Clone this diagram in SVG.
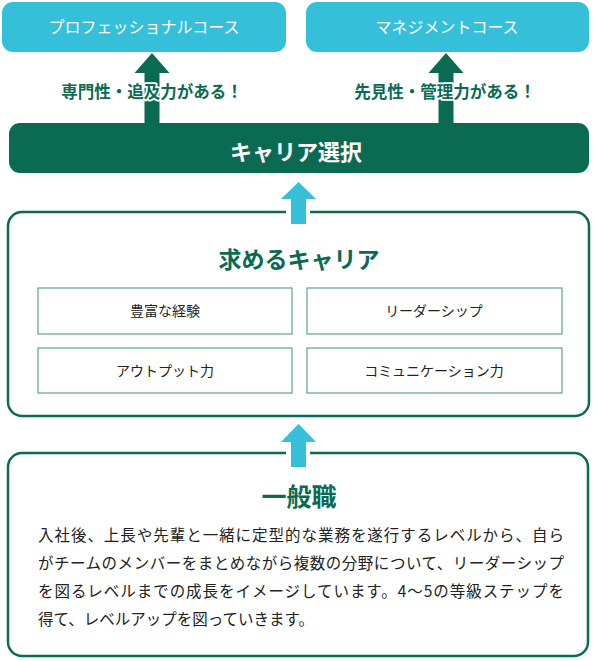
<svg xmlns="http://www.w3.org/2000/svg" width="595" height="661" viewBox="0 0 595 661">
<style>
text{font-family:"Noto Sans CJK JP","Noto Sans",sans-serif;text-anchor:middle}
.course{fill:#35bfd8}
.ct{fill:#fff;font-size:16px}
.lbl{fill:#0b6b52;font-size:16.5px;font-weight:bold;stroke:#fff;stroke-width:3.5;stroke-linejoin:round;paint-order:stroke fill}
.frame{fill:#fff;stroke:#0b6b52;stroke-width:2.5}
.ttl{fill:#0b6b52;font-weight:bold}
.inner{fill:#fff;stroke:#5aa58d;stroke-width:1.2}
.it{fill:#222;font-size:14px}
.body{fill:#222;font-size:15.5px;text-anchor:start}
.ga{fill:#0b6b52}
.ba{fill:#35bfd8}
</style>
<g id="pro-course">
<rect class="course" x="2" y="2" width="284" height="50" rx="11"/>
<text class="ct" x="144" y="33">プロフェッショナルコース</text>
</g>
<g id="mgmt-course">
<rect class="course" x="306" y="2" width="283" height="50" rx="11"/>
<text class="ct" x="447" y="33">マネジメントコース</text>
</g>
<g id="career-select">
<rect x="9" y="123" width="580" height="50" rx="11" fill="#0b6b52"/>
<text x="296" y="160" fill="#fff" font-size="22" font-weight="bold">キャリア選択</text>
</g>
<g id="required-career">
<rect class="frame" x="8" y="212" width="581" height="204" rx="14"/>
<rect x="286" y="209" width="24" height="6" fill="#fff"/>
<text class="ttl" x="299" y="268" font-size="23">求めるキャリア</text>
<g id="skill-experience"><rect class="inner" x="38" y="288" width="254" height="46"/><text class="it" x="165" y="316">豊富な経験</text></g>
<g id="skill-leadership"><rect class="inner" x="307" y="288" width="255" height="46"/><text class="it" x="434" y="316">リーダーシップ</text></g>
<g id="skill-output"><rect class="inner" x="38" y="348" width="254" height="45"/><text class="it" x="165" y="376">アウトプット力</text></g>
<g id="skill-communication"><rect class="inner" x="307" y="348" width="255" height="45"/><text class="it" x="434" y="376">コミュニケーション力</text></g>
</g>
<g id="general-staff">
<rect class="frame" x="8" y="453" width="580" height="203" rx="14"/>
<rect x="286" y="450" width="24" height="6" fill="#fff"/>
<text class="ttl" x="299" y="506" font-size="25">一般職</text>
<text class="body" x="38" y="541" textLength="526" lengthAdjust="spacing">入社後、上長や先輩と一緒に定型的な業務を遂行するレベルから、自ら</text>
<text class="body" x="38" y="569" textLength="526" lengthAdjust="spacing">がチームのメンバーをまとめながら複数の分野について、リーダーシップ</text>
<text class="body" x="38" y="597" textLength="526" lengthAdjust="spacing">を図るレベルまでの成長をイメージしています。4～5の等級ステップを</text>
<text class="body" x="38" y="625">得て、レベルアップを図っていきます。</text>
</g>
<g id="connectors">
<polygon class="ga" points="152,53 169.5,73 159.5,73 159.5,124 144.5,124 144.5,73 134.5,73"/>
<polygon class="ga" points="446,53 463.5,73 453.5,73 453.5,124 438.5,124 438.5,73 428.5,73"/>
<text class="lbl" x="152" y="98">専門性・追及力がある！</text>
<text class="lbl" x="445" y="98">先見性・管理力がある！</text>
<polygon class="ba" points="298.5,182 316,199 306,199 306,224 291,224 291,199 281,199"/>
<polygon class="ba" points="298.5,424 316,442 306,442 306,467 291,467 291,442 281,442"/>
</g>
</svg>
